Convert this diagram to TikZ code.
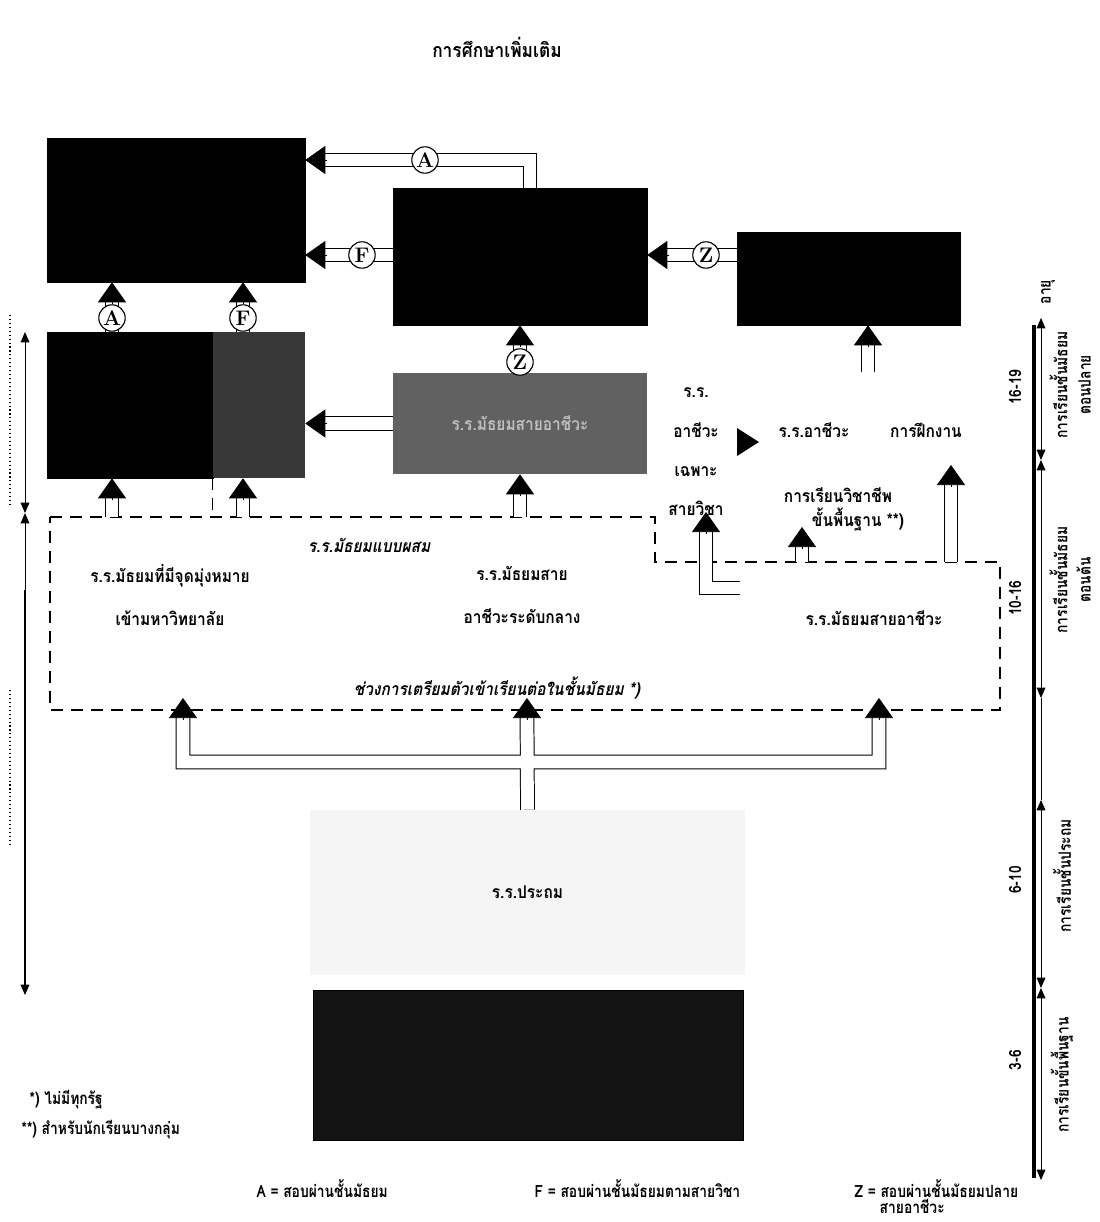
\documentclass[tikz,border=0pt]{standalone}
\usepackage{fontspec}
\newfontfamily\thaifont[Script=Thai,FakeStretch=0.88]{Loma}
\newfontfamily\thaislant[Script=Thai,FakeStretch=0.88,FakeSlant=0.2]{Loma}
\newfontfamily\thainarrow[Script=Thai,FakeStretch=0.82]{Loma}
\usetikzlibrary{arrows.meta, calc}

\tikzset{
  darkbox/.style={draw=black, fill=black, inner sep=0pt},
  pipe/.style={double=white, double distance=3.2mm, line width=0.7pt, line join=miter},
  pipeto/.style={pipe, shorten >=4mm},
  headtip/.style={-{Triangle[length=5mm, width=7mm]}, line width=0.5pt},
  tag/.style={circle, draw, line width=0.8pt, fill=white, inner sep=0pt, minimum size=6.6mm, font=\normalfont\bfseries\fontsize{15}{15}\selectfont},
  mixline/.style={dash pattern=on 3mm off 2mm, line width=0.9pt},
  agearrow/.style={{Triangle[length=2.6mm, width=2.2mm]}-{Triangle[length=2.6mm, width=2.2mm]}, line width=0.6pt},
  agetext/.style={rotate=90, align=center, inner sep=0pt, font=\thainarrow\bfseries\fontsize{12}{16.5}\selectfont},
  keytext/.style={anchor=west, font=\thainarrow\bfseries\fontsize{12}{14}\selectfont},
}

\begin{document}
\begin{tikzpicture}[x=0.25mm, y=-0.25mm, every node/.style={font=\thaifont\bfseries\fontsize{12.5}{20}\selectfont, inner sep=1pt}]
  \useasboundingbox (0,0) rectangle (1100,1222);

  \node[font=\thaifont\bfseries\fontsize{14}{20}\selectfont] (further) at (497,47) {การศึกษาเพิ่มเติม};

  % boxes
  \node[darkbox, minimum width=64.5mm, minimum height=36mm] (uni) at (176,210) {};
  \node[darkbox, minimum width=63.5mm, minimum height=34.25mm] (mid) at (520,256.5) {};
  \node[darkbox, minimum width=55.75mm, minimum height=23.25mm] (voc) at (848.5,278.5) {};
  \node[darkbox, minimum width=41.5mm, minimum height=36.5mm] (gymA) at (130,405) {};
  \node[darkbox, draw=none, fill=black!78, minimum width=23mm, minimum height=36.5mm] (gymF) at (259,405) {};
  \node[darkbox, draw=none, fill=black!62, minimum width=63.5mm, minimum height=25.25mm, text=black!25] (midvoc) at (520,423.5) {ร.ร.มัธยมสายอาชีวะ};
  \node[fill=black!4, minimum width=108.75mm, minimum height=41.25mm] (prim) at (527.5,892.5) {ร.ร.ประถม};
  \node[darkbox, fill=black!92, minimum width=107.5mm, minimum height=37.5mm] (kinder) at (528,1065) {};

  % mixed school area
  \coordinate (mixtop) at (0,517);
  \draw[mixline] (50,517) -- (655,517) -- (655,562) -- (1000,562) -- (1000,710) -- (50,710) -- cycle;
  \draw[mixline] (gymF.south west) -- (gymF.south west |- mixtop);
  \node[font=\thaislant\bfseries\fontsize{12.5}{20}\selectfont] (mixed) at (369,545) {ร.ร.มัธยมแบบผสม};
  \node[align=center, font=\thaifont\bfseries\fontsize{12.5}{30}\selectfont] (gymuni) at (170,595) {ร.ร.มัธยมที่มีจุดมุ่งหมาย\\เข้ามหาวิทยาลัย};
  \node[align=center, font=\thaifont\bfseries\fontsize{12.5}{30}\selectfont] (gymmid) at (522,595) {ร.ร.มัธยมสาย\\อาชีวะระดับกลาง};
  \node (gymvoc) at (874,618) {ร.ร.มัธยมสายอาชีวะ};
  \node[font=\thaislant\bfseries\fontsize{12.5}{20}\selectfont] (prep) at (497,688) {ช่วงการเตรียมตัวเข้าเรียนต่อในชั้นมัธยม *)};

  % vocational area
  \node[align=center, font=\thaifont\bfseries\fontsize{12.5}{28}\selectfont] (special) at (696,452) {ร.ร.\\อาชีวะ\\เฉพาะ\\สายวิชา};
  \node (vocsch) at (814,430) {ร.ร.อาชีวะ};
  \node (training) at (926,430) {การฝึกงาน};
  \node (basic) at (838,495) {การเรียนวิชาชีพ};
  \node (basic2) at (858,520) {ขั้นพื้นฐาน **)};
  \fill (737,428) -- (759,442) -- (737,456) -- cycle;

  % tag positions
  \coordinate (cA1) at (425,160);
  \coordinate (cF1) at (362,255);
  \coordinate (cZ1) at (706,255);
  \coordinate (cA2) at (112,318);
  \coordinate (cF2) at (243,318);
  \coordinate (cZ2) at (520,362);

  % upper pipes
  \draw[pipeto] ($(mid.north)+(10,0)$) |- (uni.east |- cA1);
  \draw[headtip] ($(uni.east |- cA1)+(22,0)$) -- (uni.east |- cA1);
  \draw[pipeto] (mid.west |- cF1) -- (uni.east |- cF1);
  \draw[headtip] ($(uni.east |- cF1)+(22,0)$) -- (uni.east |- cF1);
  \draw[pipeto] (voc.west |- cZ1) -- (mid.east |- cZ1);
  \draw[headtip] ($(mid.east |- cZ1)+(22,0)$) -- (mid.east |- cZ1);
  \draw[pipeto] (cA2 |- gymA.north) -- (cA2 |- uni.south);
  \draw[headtip] ($(cA2 |- uni.south)+(0,22)$) -- (cA2 |- uni.south);
  \draw[pipeto] (cF2 |- gymF.north) -- (cF2 |- uni.south);
  \draw[headtip] ($(cF2 |- uni.south)+(0,22)$) -- (cF2 |- uni.south);
  \draw[pipeto] (midvoc.north) -- (mid.south);
  \draw[headtip] ($(mid.south)+(0,22)$) -- (mid.south);
  \draw[pipeto] (midvoc.west) -- (gymF.east |- midvoc.west);
  \draw[headtip] ($(gymF.east |- midvoc.west)+(22,0)$) -- (gymF.east |- midvoc.west);
  \coordinate (cD) at (868,372);
  \draw[pipeto] (cD) -- (voc.south -| cD);
  \draw[headtip] ($(voc.south -| cD)+(0,22)$) -- (voc.south -| cD);

  % from the mixed school
  \draw[pipeto] (cA2 |- mixtop) -- (cA2 |- gymA.south);
  \draw[headtip] ($(cA2 |- gymA.south)+(0,22)$) -- (cA2 |- gymA.south);
  \draw[pipeto] (cF2 |- mixtop) -- (cF2 |- gymF.south);
  \draw[headtip] ($(cF2 |- gymF.south)+(0,22)$) -- (cF2 |- gymF.south);
  \draw[pipeto] (midvoc.south |- mixtop) -- (midvoc.south);
  \draw[headtip] ($(midvoc.south)+(0,22)$) -- (midvoc.south);

  % into vocational schools
  \coordinate (vs) at (740,588);
  \coordinate (vA) at (706,512);
  \coordinate (vB) at (802,527);
  \coordinate (vC) at (951,465);
  \draw[pipeto] (vs) -| (vA);
  \draw[headtip] ($(vA)+(0,22)$) -- (vA);
  \draw[pipeto] (802,562) -- (vB);
  \draw[headtip] ($(vB)+(0,22)$) -- (vB);
  \draw[pipeto] (951,562) -- (vC);
  \draw[headtip] ($(vC)+(0,22)$) -- (vC);

  % from primary school
  \coordinate (inL) at (183,698);
  \coordinate (inM) at (527,698);
  \coordinate (inR) at (879,698);
  \coordinate (jn) at (527,762);
  \draw[pipe] (prim.north) -- ($(inM)+(0,18)$) ($(inL)+(0,18)$) |- (jn) -| ($(inR)+(0,18)$);
  \draw[headtip] ($(inL)+(0,22)$) -- (inL);
  \draw[headtip] ($(inM)+(0,22)$) -- (inM);
  \draw[headtip] ($(inR)+(0,22)$) -- (inR);

  % tags
  \node[tag] (tA1) at (cA1) {A};
  \node[tag] (tF1) at (cF1) {F};
  \node[tag] (tZ1) at (cZ1) {Z};
  \node[tag] (tA2) at (cA2) {A};
  \node[tag] (tF2) at (cF2) {F};
  \node[tag] (tZ2) at (cZ2) {Z};

  % left axis
  \draw[dotted, line width=0.8pt] (10,315) -- (10,505) (10,690) -- (10,845);
  \draw[agearrow] (25,332) -- (25,513);
  \draw[agearrow] (25,513) -- (25,995);
  \draw[line width=1.8pt] (25,590) -- (25,985);

  % right axis
  \draw[line width=2.2pt] (1034,325) -- (1034,1178);
  \draw[agearrow] (1041,318) -- (1041,460);
  \draw[agearrow] (1041,460) -- (1041,698);
  \draw[line width=0.6pt] (1041,698) -- (1041,800);
  \draw[agearrow] (1041,800) -- (1041,988);
  \draw[agearrow] (1041,988) -- (1041,1180);
  \node[agetext] (age) at (1048,292) {อายุ};
  \node[agetext] (a1) at (1015,387) {16-19};
  \node[agetext] (s1) at (1070,385) {การเรียนชั้นมัธยม\\ตอนปลาย};
  \node[agetext] (a2) at (1015,598) {10-16};
  \node[agetext] (s2) at (1070,580) {การเรียนชั้นมัธยม\\ตอนต้น};
  \node[agetext] (a3) at (1015,880) {6-10};
  \node[agetext] (s3) at (1062,876) {การเรียนชั้นประถม};
  \node[agetext] (a4) at (1015,1060) {3-6};
  \node[agetext] (s4) at (1062,1075) {การเรียนขั้นพื้นฐาน};

  % notes
  \node[keytext] (note1) at (28,1100) {*) ไม่มีทุกรัฐ};
  \node[keytext] (note2) at (20,1130) {**) สำหรับนักเรียนบางกลุ่ม};
  \node[keytext] (keyA) at (255,1189) {A = สอบผ่านชั้นมัธยม};
  \node[keytext] (keyF) at (533,1189) {F = สอบผ่านชั้นมัธยมตามสายวิชา};
  \node[keytext] (keyZ) at (853,1189) {Z = สอบผ่านชั้นมัธยมปลาย};
  \node[keytext] (keyZ2) at (878,1206) {สายอาชีวะ};
\end{tikzpicture}
\end{document}
